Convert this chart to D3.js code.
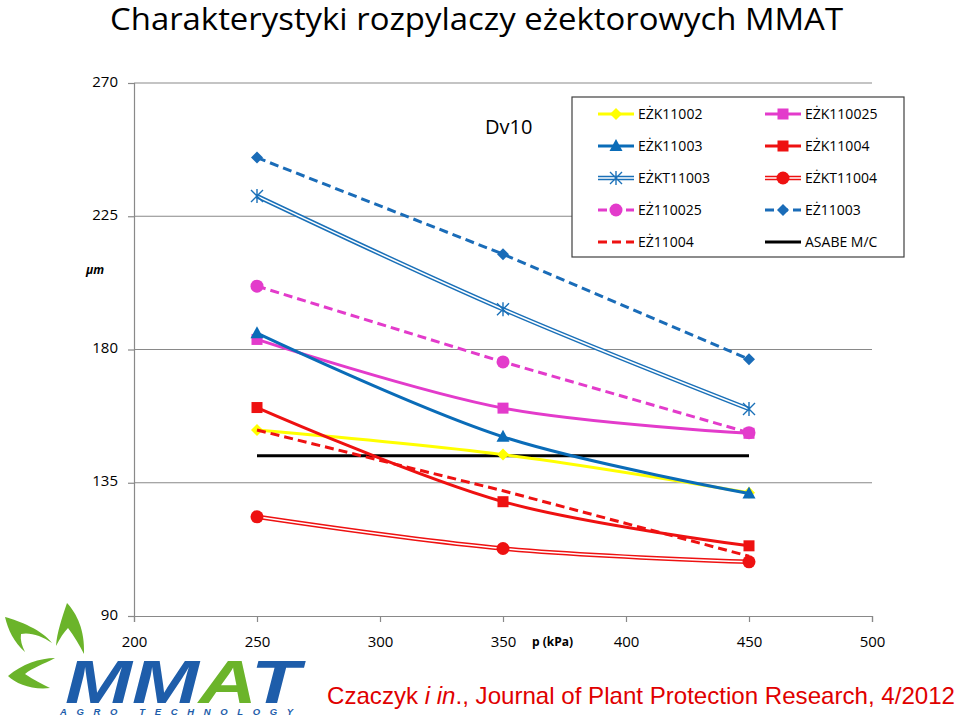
<!DOCTYPE html>
<html><head><meta charset="utf-8">
<script src="https://cdn.jsdelivr.net/npm/d3@7"></script>
<style>
body{margin:0;background:#fff;}
svg{display:block;font-family:"Open Sans","Liberation Sans",sans-serif;}
</style></head>
<body><svg id="c" width="960" height="716"></svg>
<script>
// ---- data ----
const pressures = [250, 350, 450];
const xTicks = [200, 250, 300, 350, 400, 450, 500];
const yTicks = [90, 135, 180, 225, 270];
const seriesNames = ["EŻK11002","EŻK110025","EŻK11003","EŻK11004","EŻKT11003","EŻKT11004","EŻ110025","EŻ11003","EŻ11004","ASABE M/C"];
const EZK11002  = [152.8, 144.5, 131.6];
const EZK110025 = [183.4, 160.2, 151.7];
const EZK11003  = [185.5, 150.5, 131.4];
const EZK11004  = [160.4, 128.6, 113.7];
const EZKT11003 = [231.8, 193.6, 159.9];
const EZKT11004 = [123.5, 112.8, 108.3];
const EZ110025  = [201.4, 175.8, 151.9];
const EZ11003   = [244.8, 212.2, 176.7];
const EZ11004   = [152.8, 132.3, 110.2];
const ASABE     = [144.1, 144.1, 144.1];
const seriesValues = [EZK11002,EZK110025,EZK11003,EZK11004,EZKT11003,EZKT11004,EZ110025,EZ11003,EZ11004,ASABE];

// ---- styles ----
const styles = [
  {color:"#FFFF00", marker:"diamond", dash:null, dbl:false},
  {color:"#E33BCB", marker:"square", dash:null, dbl:false},
  {color:"#0A6CB8", marker:"triangle", dash:null, dbl:false},
  {color:"#EE1111", marker:"square", dash:null, dbl:false},
  {color:"#1A70B8", marker:"star", dash:null, dbl:true},
  {color:"#EE1111", marker:"circle", dash:null, dbl:true},
  {color:"#E33BCB", marker:"circle", dash:"9,5", dbl:false},
  {color:"#1A6CB8", marker:"diamond", dash:"9,5", dbl:false},
  {color:"#EE1111", marker:null, dash:"9,5", dbl:false},
  {color:"#000000", marker:null, dash:null, dbl:false}
];

const svg = d3.select("#c");
const x = d3.scaleLinear().domain([200,500]).range([134,872]);
const y = d3.scaleLinear().domain([90,270]).range([616,83]);

// title
svg.append("text").attr("x",110).attr("y",30).attr("font-size",31)
  .attr("font-family","'Open Sans',sans-serif").attr("font-weight",400)
  .attr("textLength",733).attr("lengthAdjust","spacingAndGlyphs")
  .text("Charakterystyki rozpylaczy eżektorowych MMAT");

// gridlines
svg.append("g").selectAll("line").data(yTicks.filter(v=>v>90)).join("line")
  .attr("x1",x(200)).attr("x2",x(500)).attr("y1",d=>y(d)).attr("y2",d=>y(d))
  .attr("stroke","#898989").attr("stroke-width",1.2);

// axes
const yAxis = d3.axisLeft(y).tickValues(yTicks).tickSize(6).tickPadding(10).tickFormat(d3.format("d"));
const gy = svg.append("g").attr("transform",`translate(${x(200)},0)`).call(yAxis);
const xAxis = d3.axisBottom(x).tickValues(xTicks).tickSize(6).tickPadding(14).tickFormat(d3.format("d"));
const gx = svg.append("g").attr("transform",`translate(0,${y(90)})`).call(xAxis);
[gx,gy].forEach(g=>{
  g.select(".domain").attr("stroke","#898989").attr("stroke-width",1.2);
  g.selectAll(".tick line").attr("stroke","#898989").attr("stroke-width",1.2);
  g.selectAll(".tick text").attr("font-size",15).attr("fill","#000").attr("font-family","'Open Sans',sans-serif");
});
gy.selectAll(".tick text").attr("dy","0.2em");

svg.append("text").attr("x",86).attr("y",274).attr("font-size",12).attr("font-weight","bold")
  .attr("font-style","italic").text("µm");
svg.append("text").attr("x",532).attr("y",646).attr("font-size",12).attr("font-weight","bold")
  .text("p (kPa)");

// lines
const line = d3.line().x(d=>x(d[0])).y(d=>y(d[1])).curve(d3.curveCatmullRom.alpha(0.5));
const straight = d3.line().x(d=>x(d[0])).y(d=>y(d[1]));

function marker(g, type, cx, cy, color){
  if(type==="diamond"){
    g.append("path").attr("d",`M${cx},${cy-6}L${cx+6},${cy}L${cx},${cy+6}L${cx-6},${cy}Z`).attr("fill",color);
  } else if(type==="square"){
    g.append("rect").attr("x",cx-5.5).attr("y",cy-5.5).attr("width",11).attr("height",11).attr("fill",color);
  } else if(type==="triangle"){
    g.append("path").attr("d",`M${cx},${cy-7}L${cx+6.5},${cy+5}L${cx-6.5},${cy+5}Z`).attr("fill",color);
  } else if(type==="circle"){
    g.append("circle").attr("cx",cx).attr("cy",cy).attr("r",6.5).attr("fill",color);
  } else if(type==="star"){
    g.append("path").attr("d",`M${cx-6},${cy-6}L${cx+6},${cy+6}M${cx-6},${cy+6}L${cx+6},${cy-6}M${cx},${cy-7}L${cx},${cy+7}`)
      .attr("stroke",color).attr("stroke-width",1.4).attr("fill","none");
  }
}

const order = [9,0,1,2,3,4,5,6,7,8];
const plot = svg.append("g");
order.forEach(i=>{
  const st = styles[i];
  const pts = pressures.map((p,j)=>[p, seriesValues[i][j]]);
  const g = plot.append("g");
  const gen = (i===9||st.dash) ? straight : line;
  if(st.dbl){
    g.append("path").attr("d",gen(pts)).attr("fill","none").attr("stroke",st.color).attr("stroke-width",4.5);
    g.append("path").attr("d",gen(pts)).attr("fill","none").attr("stroke","#fff").attr("stroke-width",1.6);
  } else {
    g.append("path").attr("d",gen(pts)).attr("fill","none").attr("stroke",st.color)
      .attr("stroke-width",3).attr("stroke-dasharray",st.dash);
  }
  if(st.marker) pts.forEach(p=>marker(g, st.marker, x(p[0]), y(p[1]), st.color));
});

// Dv10 label
svg.append("text").attr("x",485).attr("y",134).attr("font-size",20).text("Dv10");

// legend
const lg = svg.append("g");
lg.append("rect").attr("x",572).attr("y",97).attr("width",332).attr("height",160)
  .attr("fill","#fff").attr("stroke","#404040").attr("stroke-width",1.2);
seriesNames.forEach((name,i)=>{
  const col = i%2, row = Math.floor(i/2);
  const x0 = col===0 ? 598 : 765;
  const yy = 114 + row*32;
  const st = styles[i];
  const g = lg.append("g");
  if(st.dbl){
    g.append("line").attr("x1",x0).attr("x2",x0+36).attr("y1",yy).attr("y2",yy).attr("stroke",st.color).attr("stroke-width",4.5);
    g.append("line").attr("x1",x0).attr("x2",x0+36).attr("y1",yy).attr("y2",yy).attr("stroke","#fff").attr("stroke-width",1.6);
  } else {
    g.append("line").attr("x1",x0).attr("x2",x0+36).attr("y1",yy).attr("y2",yy).attr("stroke",st.color)
      .attr("stroke-width",3).attr("stroke-dasharray",st.dash ? "9,5" : null);
  }
  if(st.marker) marker(g, st.marker, x0+18, yy, st.color);
  g.append("text").attr("x",x0+40).attr("y",yy+5).attr("font-size",14).text(name);
});

// logo
const logo = svg.append("g");
const green = "#6BB42A", blue = "#1E5DAA";
logo.append("path").attr("d","M5,617 C20,621 42,630 52,643 C42,636 30,632 21,634 C20,640 22,646 25,652 C14,642 8,630 5,617 Z").attr("fill",green);
logo.append("path").attr("d","M67,603 C62,618 57,632 56,646 C60,638 64,632 68,628 C74,636 80,646 84,654 C85,630 77,614 67,603 Z").attr("fill",green);
logo.append("path").attr("d","M8,676 C22,664 40,658 55,658 C44,664 32,668 25,674 C34,680 42,684 50,688 C32,690 16,684 8,676 Z").attr("fill",green);
const lt = logo.append("text").attr("x",65).attr("y",703).attr("font-size",62).attr("font-weight",900)
  .attr("font-style","italic").attr("font-family","'Liberation Sans',Arial,sans-serif")
  .attr("textLength",235).attr("lengthAdjust","spacingAndGlyphs");
lt.append("tspan").attr("fill",blue).text("MM");
lt.append("tspan").attr("fill",green).text("A");
lt.append("tspan").attr("fill",blue).text("T");
logo.append("text").attr("x",60).attr("y",714.5).attr("font-size",9.5).attr("font-weight",900)
  .attr("font-style","italic").attr("fill",blue).attr("font-family","'Liberation Sans',Arial,sans-serif")
  .attr("textLength",233).attr("lengthAdjust","spacing").text("AGRO TECHNOLOGY");

// citation
const cit = svg.append("text").attr("x",327).attr("y",704).attr("font-size",24).attr("fill","#E00000")
  .attr("font-family","'Liberation Sans',Arial,sans-serif").attr("textLength",628).attr("lengthAdjust","spacingAndGlyphs");
cit.append("tspan").text("Czaczyk ");
cit.append("tspan").attr("font-style","italic").text("i in");
cit.append("tspan").text("., Journal of Plant Protection Research, 4/2012");
</script></body></html>
